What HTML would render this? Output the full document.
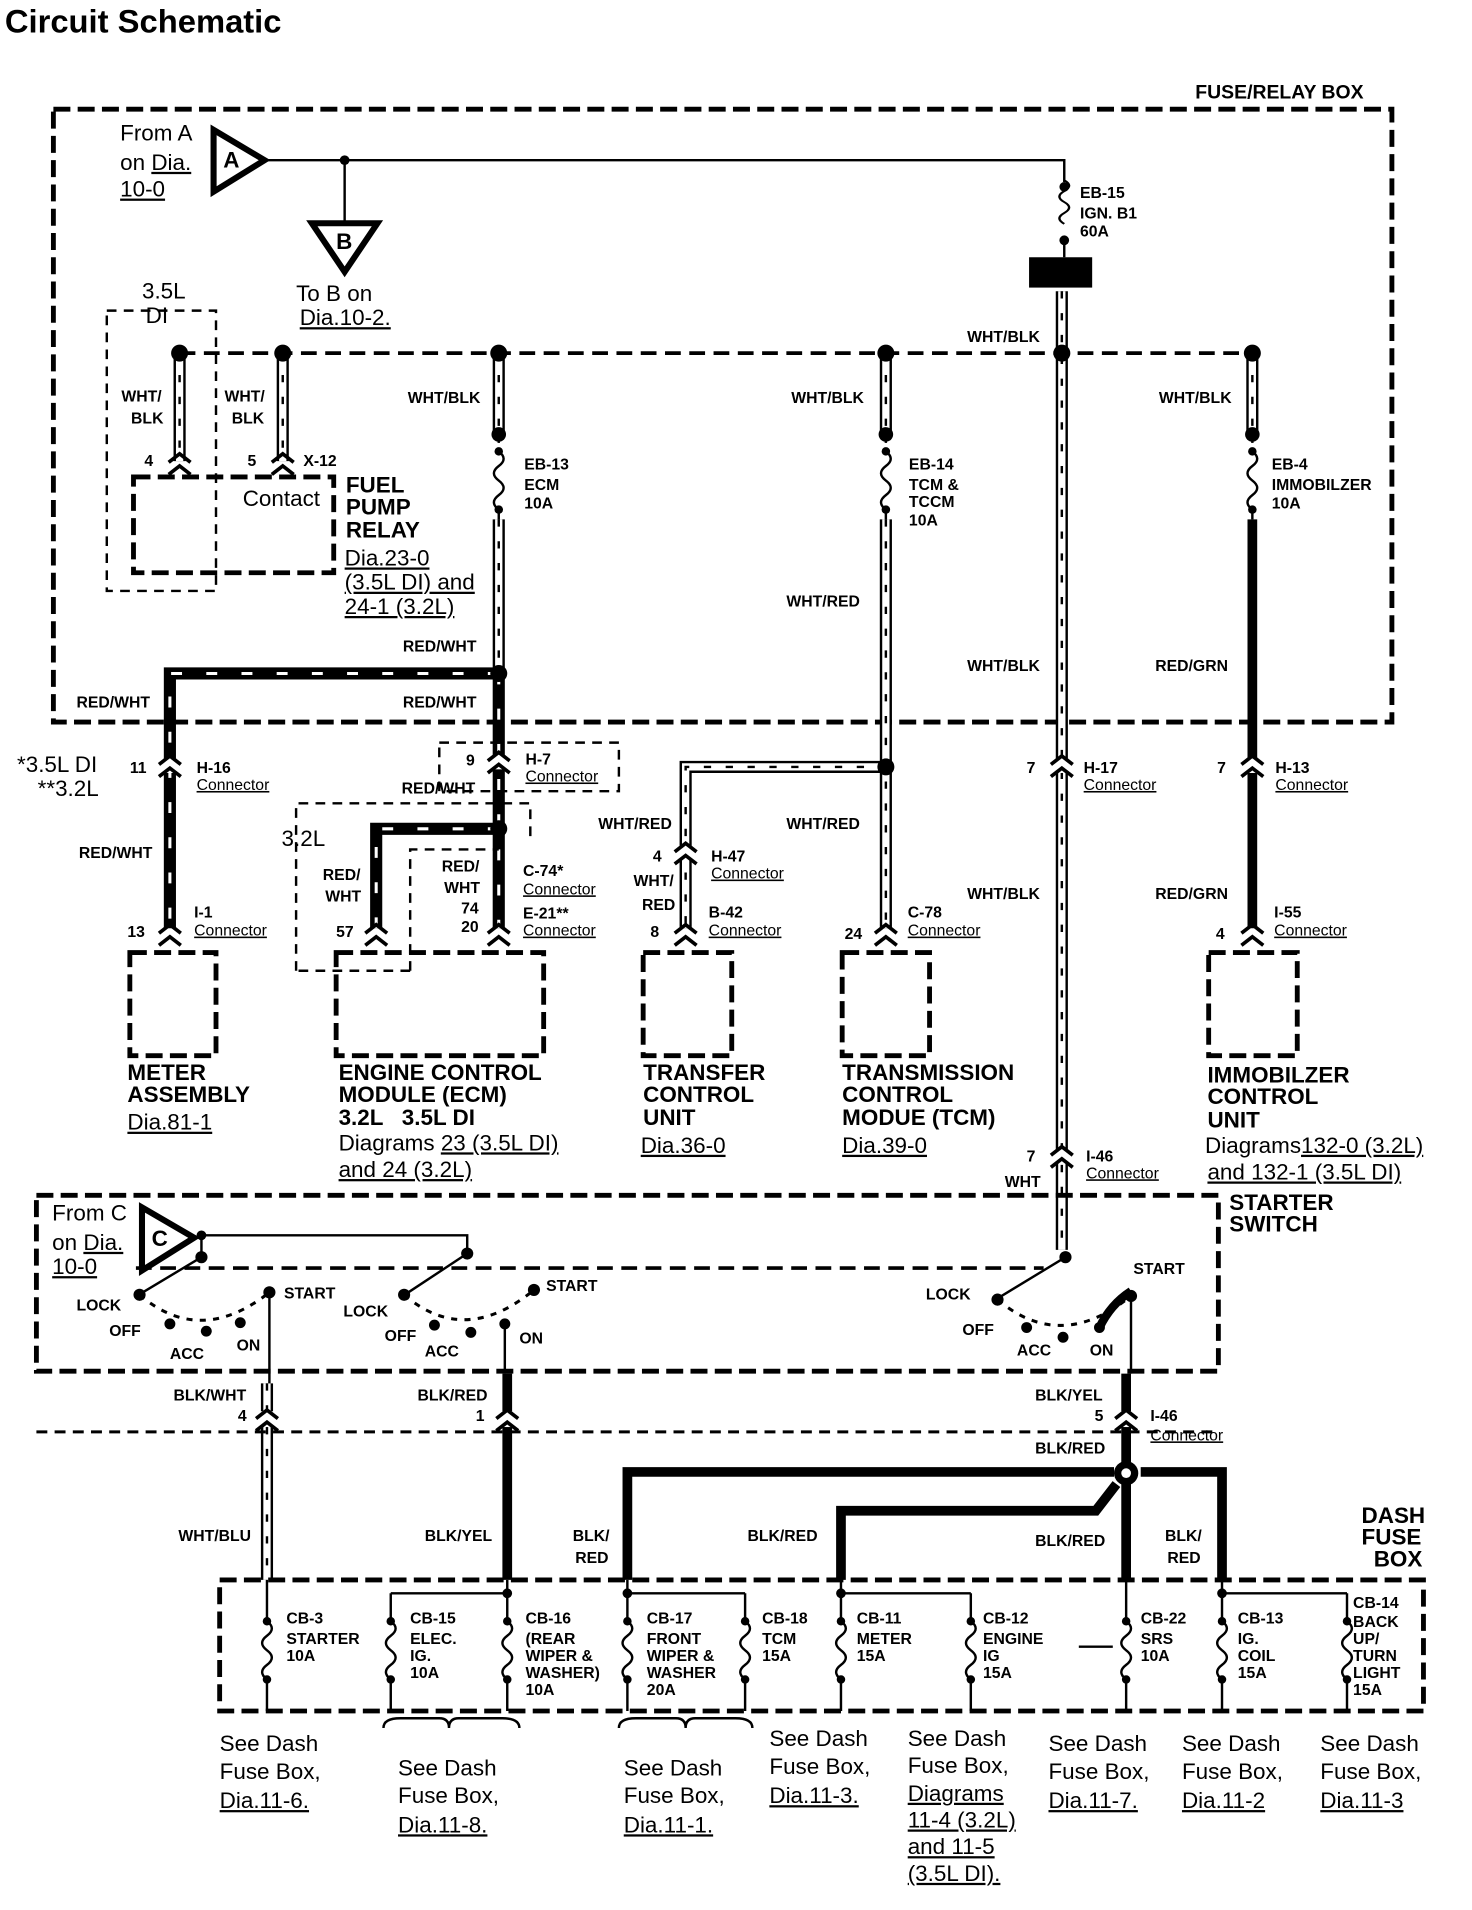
<!DOCTYPE html>
<html><head><meta charset="utf-8"><style>
html,body{margin:0;padding:0;background:#fff;}
svg{display:block}
text{font-family:"Liberation Sans",sans-serif;fill:#000}
.b{font-weight:bold;font-size:13px}
.B{font-weight:bold;font-size:18.5px}
.r{font-size:18.5px}
.u{text-decoration:underline}
.thin{stroke:#000;stroke-width:2;fill:none}
.box{stroke:#000;stroke-width:4;fill:none;stroke-dasharray:14 6}
.tbox{stroke:#000;stroke-width:2;fill:none;stroke-dasharray:8 6}
.sa{stroke:#000;stroke-width:10;fill:none}
.sb{stroke:#fff;stroke-width:6;fill:none}
.sc{stroke:#000;stroke-width:2;fill:none;stroke-dasharray:6 12}
.ra{stroke:#000;stroke-width:10;fill:none}
.rb{stroke:#fff;stroke-width:2.5;fill:none;stroke-dasharray:9 20}
.k{stroke:#000;stroke-width:8;fill:none}
.sw{stroke:#000;stroke-width:2.5;fill:none;stroke-dasharray:5 6}
</style></head><body>
<svg width="1472" height="1910" viewBox="0 0 1213 1574" preserveAspectRatio="none" xmlns="http://www.w3.org/2000/svg">
<defs>
<path id="fz" d="M0,0 q8,6 0,12 q-8,6 0,12 q8,6 0,12 q-8,6 0,12" fill="none" stroke="#000" stroke-width="2"/>
<path id="cn" d="M-9,-3 L0,-10 L9,-3 M-9,7 L0,0 L9,7" fill="none" stroke="#000" stroke-width="3"/>
<path id="w1" d="M148 291 V380"/><path id="w2" d="M233 291 V380"/>
<path id="w3" d="M411 291 V358 M411 428 V552"/>
<path id="w4" d="M730 291 V358 M730 428 V765"/>
<path id="w5" d="M730 632 H565 V765"/>
<path id="w6" d="M875 240 V1030"/>
<path id="w7" d="M1032 291 V358"/>
<path id="w8" d="M220 1140 V1302"/>
<path id="r1" d="M411 555 H140 V765"/><path id="r2" d="M411 555 V765"/><path id="r3" d="M411 683 H310 V765"/>
</defs>
<text x="4" y="27" style="font-weight:bold;font-size:27px">Circuit Schematic</text>
<rect class="box" x="44" y="90" width="1103" height="505"/>
<text class="b" x="985" y="81" style="font-size:16px">FUSE/RELAY BOX</text>
<path d="M176,107 L176,158 L218,132 Z" fill="none" stroke="#000" stroke-width="5"/>
<text class="B" x="184" y="138">A</text>
<path class="thin" d="M220 132 H877 V150"/>
<circle cx="284" cy="132" r="4"/>
<path class="thin" d="M284 132 V183"/>
<path d="M257,184 L311,184 L284,224 Z" fill="none" stroke="#000" stroke-width="5"/>
<text class="B" x="277" y="205">B</text>
<text class="r" x="99" y="116">From A</text>
<text class="r" x="99" y="140">on <tspan class="u">Dia.</tspan></text>
<text class="r u" x="99" y="162">10-0</text>
<text class="r" x="244" y="248">To B on</text>
<text class="r u" x="247" y="268">Dia.10-2.</text>
<circle cx="877" cy="154" r="4"/><use href="#fz" x="877" y="158" transform="scale(1,0.75) translate(0,40)"/>
<circle cx="877" cy="198" r="4"/>
<path class="thin" d="M877 198 V212"/>
<rect x="848" y="212" width="52" height="25"/>
<text class="b" x="890" y="163">EB-15</text><text class="b" x="890" y="180">IGN. B1</text><text class="b" x="890" y="195">60A</text>
<text class="b" x="797" y="282">WHT/BLK</text>
<path stroke="#000" stroke-width="3" stroke-dasharray="13 7" d="M148 291 H1032"/>
<rect class="tbox" x="88" y="256" width="90" height="231"/>
<text class="r" x="117" y="246">3.5L</text><text class="r" x="120" y="266">DI</text>
<g class="sa"><use href="#w1"/><use href="#w2"/><use href="#w3"/><use href="#w4"/><use href="#w5"/><use href="#w6"/><use href="#w7"/><use href="#w8"/></g>
<g class="sb"><use href="#w1"/><use href="#w2"/><use href="#w3"/><use href="#w4"/><use href="#w5"/><use href="#w6"/><use href="#w7"/><use href="#w8"/></g>
<g class="sc"><use href="#w1"/><use href="#w2"/><use href="#w3"/><use href="#w4"/><use href="#w5"/><use href="#w6"/><use href="#w7"/><use href="#w8"/></g>
<g class="ra"><use href="#r1"/><use href="#r2"/><use href="#r3"/></g>
<g class="rb"><use href="#r1"/><use href="#r2"/><use href="#r3"/></g>
<path class="k" d="M1032 428 V765"/>
<g>
<circle cx="411" cy="358" r="6"/><circle cx="730" cy="358" r="6"/><circle cx="1032" cy="358" r="6"/>
<path class="thin" d="M411 358 V428 M730 358 V428 M1032 358 V428"/>
<rect x="400" y="365" width="22" height="58" fill="#fff"/><rect x="719" y="365" width="22" height="58" fill="#fff"/><rect x="1021" y="365" width="22" height="58" fill="#fff"/>
<circle cx="411" cy="372" r="3.5"/><circle cx="411" cy="420" r="3.5"/><use href="#fz" x="411" y="372"/>
<circle cx="730" cy="372" r="3.5"/><circle cx="730" cy="420" r="3.5"/><use href="#fz" x="730" y="372"/>
<circle cx="1032" cy="372" r="3.5"/><circle cx="1032" cy="420" r="3.5"/><use href="#fz" x="1032" y="372"/>
</g>
<g><circle cx="148" cy="291" r="7"/><circle cx="233" cy="291" r="7"/><circle cx="411" cy="291" r="7"/><circle cx="730" cy="291" r="7"/><circle cx="875" cy="291" r="7"/><circle cx="1032" cy="291" r="7"/>
<circle cx="411" cy="555" r="7"/><circle cx="411" cy="683" r="7"/><circle cx="730" cy="632" r="7"/></g>
<text class="b" x="100" y="331">WHT/</text><text class="b" x="108" y="349">BLK</text>
<text class="b" x="185" y="331">WHT/</text><text class="b" x="191" y="349">BLK</text>
<text class="b" x="336" y="332">WHT/BLK</text><text class="b" x="652" y="332">WHT/BLK</text><text class="b" x="955" y="332">WHT/BLK</text>
<use href="#cn" x="148" y="384"/><use href="#cn" x="233" y="384"/>
<text class="b" x="119" y="384">4</text><text class="b" x="204" y="384">5</text><text class="b" x="250" y="384">X-12</text>
<rect class="box" x="110" y="393" width="165" height="79"/>
<text class="r" x="200" y="417">Contact</text>
<text class="B" x="285" y="406">FUEL</text><text class="B" x="285" y="424">PUMP</text><text class="B" x="285" y="443">RELAY</text>
<text class="r u" x="284" y="466">Dia.23-0</text><text class="r u" x="284" y="486">(3.5L DI) and</text><text class="r u" x="284" y="506">24-1 (3.2L)</text>
<text class="b" x="432" y="387">EB-13</text><text class="b" x="432" y="404">ECM</text><text class="b" x="432" y="419">10A</text>
<text class="b" x="749" y="387">EB-14</text><text class="b" x="749" y="404">TCM &amp;</text><text class="b" x="749" y="418">TCCM</text><text class="b" x="749" y="433">10A</text>
<text class="b" x="1048" y="387">EB-4</text><text class="b" x="1048" y="404">IMMOBILZER</text><text class="b" x="1048" y="419">10A</text>
<text class="b" x="648" y="500">WHT/RED</text>
<text class="b" x="332" y="537">RED/WHT</text><text class="b" x="63" y="583">RED/WHT</text><text class="b" x="332" y="583">RED/WHT</text>
<text class="b" x="797" y="553">WHT/BLK</text><text class="b" x="952" y="553">RED/GRN</text>
<g fill="#fff"><rect x="128" y="625" width="24" height="12"/><rect x="399" y="622" width="24" height="12"/><rect x="863" y="625" width="24" height="12"/><rect x="1020" y="625" width="24" height="12"/><rect x="553" y="697" width="24" height="12"/><rect x="863" y="947" width="24" height="12"/></g>
<use href="#cn" x="140" y="633"/><use href="#cn" x="411" y="630"/><use href="#cn" x="875" y="633"/><use href="#cn" x="1032" y="633"/><use href="#cn" x="565" y="705"/><use href="#cn" x="875" y="955"/>
<use href="#cn" x="140" y="772"/><use href="#cn" x="310" y="772"/><use href="#cn" x="411" y="772"/><use href="#cn" x="565" y="772"/><use href="#cn" x="730" y="772"/><use href="#cn" x="1032" y="772"/>
<text class="r" x="14" y="636">*3.5L DI</text><text class="r" x="31" y="656">**3.2L</text>
<text class="b" x="107" y="637">11</text><text class="b" x="162" y="637">H-16</text><text class="b u" x="162" y="651" style="font-weight:normal">Connector</text>
<rect class="tbox" x="362" y="612" width="148" height="40"/>
<text class="b" x="384" y="631">9</text><text class="b" x="433" y="630">H-7</text><text class="b u" x="433" y="644" style="font-weight:normal">Connector</text>
<text class="b" x="331" y="654">RED/WHT</text>
<text class="b" x="846" y="637">7</text><text class="b" x="893" y="637">H-17</text><text class="b u" x="893" y="651" style="font-weight:normal">Connector</text>
<text class="b" x="1003" y="637">7</text><text class="b" x="1051" y="637">H-13</text><text class="b u" x="1051" y="651" style="font-weight:normal">Connector</text>
<path class="tbox" d="M244 800 V662 H437 V695 M338 800 H244 M338 800 V700 H411"/>
<text class="r" x="232" y="697">3.2L</text>
<text class="b" x="493" y="683">WHT/RED</text><text class="b" x="648" y="683">WHT/RED</text>
<text class="b" x="538" y="710">4</text><text class="b" x="586" y="710">H-47</text><text class="b u" x="586" y="724" style="font-weight:normal">Connector</text>
<text class="b" x="65" y="707">RED/WHT</text>
<text class="b" x="266" y="725">RED/</text><text class="b" x="268" y="743">WHT</text>
<text class="b" x="364" y="718">RED/</text><text class="b" x="366" y="736">WHT</text>
<text class="b" x="380" y="753">74</text><text class="b" x="380" y="768">20</text><text class="b" x="277" y="772">57</text>
<text class="b" x="431" y="722">C-74*</text><text class="b u" x="431" y="737" style="font-weight:normal">Connector</text>
<text class="b" x="431" y="757">E-21**</text><text class="b u" x="431" y="771" style="font-weight:normal">Connector</text>
<text class="b" x="522" y="730">WHT/</text><text class="b" x="529" y="750">RED</text>
<text class="b" x="536" y="772">8</text><text class="b" x="584" y="756">B-42</text><text class="b u" x="584" y="771" style="font-weight:normal">Connector</text>
<text class="b" x="696" y="774">24</text><text class="b" x="748" y="756">C-78</text><text class="b u" x="748" y="771" style="font-weight:normal">Connector</text>
<text class="b" x="797" y="741">WHT/BLK</text><text class="b" x="952" y="741">RED/GRN</text>
<text class="b" x="105" y="772">13</text><text class="b" x="160" y="756">I-1</text><text class="b u" x="160" y="771" style="font-weight:normal">Connector</text>
<text class="b" x="1002" y="774">4</text><text class="b" x="1050" y="756">I-55</text><text class="b u" x="1050" y="771" style="font-weight:normal">Connector</text>
<rect class="box" x="107" y="785" width="71" height="85"/>
<rect class="box" x="277" y="785" width="171" height="85"/>
<rect class="box" x="530" y="785" width="73" height="85"/>
<rect class="box" x="694" y="785" width="72" height="85"/>
<rect class="box" x="996" y="785" width="73" height="85"/>
<text class="B" x="105" y="890">METER</text><text class="B" x="105" y="908">ASSEMBLY</text><text class="r u" x="105" y="931">Dia.81-1</text>
<text class="B" x="279" y="890">ENGINE CONTROL</text><text class="B" x="279" y="908">MODULE (ECM)</text><text class="B" x="279" y="927">3.2L &#160;&#160;3.5L DI</text>
<text class="r" x="279" y="948">Diagrams <tspan class="u">23 (3.5L DI)</tspan></text><text class="r u" x="279" y="970">and 24 (3.2L)</text>
<text class="B" x="530" y="890">TRANSFER</text><text class="B" x="530" y="908">CONTROL</text><text class="B" x="530" y="927">UNIT</text><text class="r u" x="528" y="950">Dia.36-0</text>
<text class="B" x="694" y="890">TRANSMISSION</text><text class="B" x="694" y="908">CONTROL</text><text class="B" x="694" y="927">MODUE (TCM)</text><text class="r u" x="694" y="950">Dia.39-0</text>
<text class="B" x="995" y="892">IMMOBILZER</text><text class="B" x="995" y="910">CONTROL</text><text class="B" x="995" y="929">UNIT</text>
<text class="r" x="993" y="950">Diagrams<tspan class="u">132-0 (3.2L)</tspan></text><text class="r u" x="995" y="972">and 132-1 (3.5L DI)</text>
<text class="b" x="846" y="957">7</text><text class="b" x="895" y="957">I-46</text><text class="b u" x="895" y="971" style="font-weight:normal">Connector</text>
<text class="b" x="828" y="978">WHT</text>
<rect class="box" x="30" y="985" width="974" height="145"/>
<path stroke="#000" stroke-width="3" stroke-dasharray="13 7" d="M112 1045 H860"/>
<text class="B" x="1013" y="997">STARTER</text><text class="B" x="1013" y="1015">SWITCH</text>
<path d="M117,995 L117,1047 L160,1020 Z" fill="#fff" stroke="#000" stroke-width="5"/>
<text class="B" x="125" y="1027">C</text>
<text class="r" x="43" y="1006">From C</text><text class="r" x="43" y="1030">on <tspan class="u">Dia.</tspan></text><text class="r u" x="43" y="1050">10-0</text>
<path class="thin" d="M166 1018 H385 V1033 M166 1018 V1036"/>
<circle cx="166" cy="1018" r="4"/><circle cx="166" cy="1036" r="5"/><circle cx="385" cy="1033" r="5"/><circle cx="878" cy="1036" r="5"/>
<path class="thin" stroke-width="2.5" d="M166 1036 L116 1066 M385 1033 L335 1066 M878 1036 L822 1070"/>
<g><circle cx="115" cy="1067" r="5"/><circle cx="140" cy="1091" r="4.5"/><circle cx="170" cy="1097" r="4.5"/><circle cx="198" cy="1090" r="4.5"/><circle cx="222" cy="1065" r="5"/>
<circle cx="333" cy="1067" r="5"/><circle cx="358" cy="1092" r="4.5"/><circle cx="388" cy="1098" r="4.5"/><circle cx="416" cy="1091" r="4.5"/><circle cx="440" cy="1063" r="5"/>
<circle cx="822" cy="1071" r="5"/><circle cx="846" cy="1094" r="4.5"/><circle cx="876" cy="1102" r="4.5"/><circle cx="906" cy="1094" r="4.5"/><circle cx="932" cy="1068" r="5"/></g>
<path class="sw" d="M115 1067 Q165 1110 222 1065 M333 1067 Q383 1110 440 1063 M822 1071 Q874 1115 932 1068"/>
<path d="M906 1094 Q915 1075 932 1064" stroke="#000" stroke-width="7" fill="none"/>
<path class="thin" d="M222 1065 V1140 M416 1091 V1132 M932 1068 V1132"/>
<text class="b" x="63" y="1080">LOCK</text><text class="b" x="90" y="1101">OFF</text><text class="b" x="140" y="1120">ACC</text><text class="b" x="195" y="1113">ON</text><text class="b" x="234" y="1070">START</text>
<text class="b" x="283" y="1085">LOCK</text><text class="b" x="317" y="1105">OFF</text><text class="b" x="350" y="1118">ACC</text><text class="b" x="428" y="1107">ON</text><text class="b" x="450" y="1064">START</text>
<text class="b" x="763" y="1071">LOCK</text><text class="b" x="793" y="1100">OFF</text><text class="b" x="838" y="1117">ACC</text><text class="b" x="898" y="1117">ON</text><text class="b" x="934" y="1050">START</text>
<path stroke="#000" stroke-width="2.5" stroke-dasharray="9 6" d="M30 1180 H1004"/>
<path class="k" d="M418 1132 V1302 M928 1132 V1302"/>
<path class="k" stroke-width="12" d="M517 1302 V1213 H918 M940 1213 H1007 V1302"/>
<path class="k" stroke-width="10" d="M693 1302 V1245 H903 L920 1223"/>
<circle cx="928" cy="1214" r="10" fill="#000"/><circle cx="928" cy="1214" r="4" fill="#fff"/>
<g fill="#fff"><rect x="208" y="1163" width="24" height="13"/><rect x="406" y="1163" width="24" height="13"/><rect x="916" y="1163" width="24" height="13"/></g>
<use href="#cn" x="220" y="1172"/><use href="#cn" x="418" y="1172"/><use href="#cn" x="928" y="1172"/>
<text class="b" x="143" y="1154">BLK/WHT</text><text class="b" x="196" y="1171">4</text>
<text class="b" x="344" y="1154">BLK/RED</text><text class="b" x="392" y="1171">1</text>
<text class="b" x="853" y="1154">BLK/YEL</text><text class="b" x="902" y="1171">5</text>
<text class="b" x="948" y="1171">I-46</text><text class="b u" x="948" y="1187" style="font-weight:normal">Connector</text>
<text class="b" x="853" y="1198">BLK/RED</text>
<text class="b" x="147" y="1270">WHT/BLU</text><text class="b" x="350" y="1270">BLK/YEL</text>
<text class="b" x="472" y="1270">BLK/</text><text class="b" x="474" y="1288">RED</text>
<text class="b" x="616" y="1270">BLK/RED</text><text class="b" x="853" y="1274">BLK/RED</text>
<text class="b" x="960" y="1270">BLK/</text><text class="b" x="962" y="1288">RED</text>
<text class="B" x="1122" y="1255">DASH</text><text class="B" x="1122" y="1273">FUSE</text><text class="B" x="1132" y="1291">BOX</text>
<rect class="box" x="181" y="1302" width="992" height="108"/>
<path class="thin" stroke-width="3" d="M322 1313 H418 M517 1313 H614 M693 1313 H800 M1007 1313 H1110 M889 1357 H917"/>
<path class="thin" d="M220 1302 V1410 M322 1313 V1410 M418 1302 V1410 M517 1302 V1410 M614 1313 V1410 M693 1302 V1410 M800 1313 V1410 M928 1302 V1410 M1007 1302 V1410 M1110 1313 V1410"/>
<g fill="#fff"><rect x="210" y="1336" width="20" height="50"/><rect x="312" y="1336" width="20" height="50"/><rect x="408" y="1336" width="20" height="50"/><rect x="507" y="1336" width="20" height="50"/><rect x="604" y="1336" width="20" height="50"/><rect x="683" y="1336" width="20" height="50"/><rect x="790" y="1336" width="20" height="50"/><rect x="918" y="1336" width="20" height="50"/><rect x="997" y="1336" width="20" height="50"/><rect x="1100" y="1336" width="20" height="50"/></g>
<g>
<circle cx="418" cy="1313" r="4"/><circle cx="517" cy="1313" r="4"/><circle cx="693" cy="1313" r="4"/><circle cx="1007" cy="1313" r="4"/>
<circle cx="220" cy="1336" r="3.5"/><circle cx="220" cy="1384" r="3.5"/><use href="#fz" x="220" y="1336"/>
<circle cx="322" cy="1336" r="3.5"/><circle cx="322" cy="1384" r="3.5"/><use href="#fz" x="322" y="1336"/>
<circle cx="418" cy="1336" r="3.5"/><circle cx="418" cy="1384" r="3.5"/><use href="#fz" x="418" y="1336"/>
<circle cx="517" cy="1336" r="3.5"/><circle cx="517" cy="1384" r="3.5"/><use href="#fz" x="517" y="1336"/>
<circle cx="614" cy="1336" r="3.5"/><circle cx="614" cy="1384" r="3.5"/><use href="#fz" x="614" y="1336"/>
<circle cx="693" cy="1336" r="3.5"/><circle cx="693" cy="1384" r="3.5"/><use href="#fz" x="693" y="1336"/>
<circle cx="800" cy="1336" r="3.5"/><circle cx="800" cy="1384" r="3.5"/><use href="#fz" x="800" y="1336"/>
<circle cx="928" cy="1336" r="3.5"/><circle cx="928" cy="1384" r="3.5"/><use href="#fz" x="928" y="1336"/>
<circle cx="1007" cy="1336" r="3.5"/><circle cx="1007" cy="1384" r="3.5"/><use href="#fz" x="1007" y="1336"/>
<circle cx="1110" cy="1336" r="3.5"/><circle cx="1110" cy="1384" r="3.5"/><use href="#fz" x="1110" y="1336"/>
</g>
<g class="b">
<text x="236" y="1338">CB-3</text><text x="236" y="1355">STARTER</text><text x="236" y="1369">10A</text>
<text x="338" y="1338">CB-15</text><text x="338" y="1355">ELEC.</text><text x="338" y="1369">IG.</text><text x="338" y="1383">10A</text>
<text x="433" y="1338">CB-16</text><text x="433" y="1355">(REAR</text><text x="433" y="1369">WIPER &amp;</text><text x="433" y="1383">WASHER)</text><text x="433" y="1397">10A</text>
<text x="533" y="1338">CB-17</text><text x="533" y="1355">FRONT</text><text x="533" y="1369">WIPER &amp;</text><text x="533" y="1383">WASHER</text><text x="533" y="1397">20A</text>
<text x="628" y="1338">CB-18</text><text x="628" y="1355">TCM</text><text x="628" y="1369">15A</text>
<text x="706" y="1338">CB-11</text><text x="706" y="1355">METER</text><text x="706" y="1369">15A</text>
<text x="810" y="1338">CB-12</text><text x="810" y="1355">ENGINE</text><text x="810" y="1369">IG</text><text x="810" y="1383">15A</text>
<text x="940" y="1338">CB-22</text><text x="940" y="1355">SRS</text><text x="940" y="1369">10A</text>
<text x="1020" y="1338">CB-13</text><text x="1020" y="1355">IG.</text><text x="1020" y="1369">COIL</text><text x="1020" y="1383">15A</text>
<text x="1115" y="1325">CB-14</text><text x="1115" y="1341">BACK</text><text x="1115" y="1355">UP/</text><text x="1115" y="1369">TURN</text><text x="1115" y="1383">LIGHT</text><text x="1115" y="1397">15A</text>
</g>
<path class="thin" stroke-width="3" d="M316 1424 Q316 1416 330 1416 H362 Q370 1416 370 1424 Q370 1416 378 1416 H414 Q428 1416 428 1424 M510 1424 Q510 1416 524 1416 H557 Q565 1416 565 1424 Q565 1416 573 1416 H606 Q620 1416 620 1424"/>
<g class="r">
<text x="181" y="1443">See Dash</text><text x="181" y="1466">Fuse Box,</text><text x="181" y="1490" class="u">Dia.11-6.</text>
<text x="328" y="1463">See Dash</text><text x="328" y="1486">Fuse Box,</text><text x="328" y="1510" class="u">Dia.11-8.</text>
<text x="514" y="1463">See Dash</text><text x="514" y="1486">Fuse Box,</text><text x="514" y="1510" class="u">Dia.11-1.</text>
<text x="634" y="1439">See Dash</text><text x="634" y="1462">Fuse Box,</text><text x="634" y="1486" class="u">Dia.11-3.</text>
<text x="748" y="1439">See Dash</text><text x="748" y="1461">Fuse Box,</text><text x="748" y="1484" class="u">Diagrams</text><text x="748" y="1506" class="u">11-4 (3.2L)</text><text x="748" y="1528" class="u">and 11-5</text><text x="748" y="1550" class="u">(3.5L DI).</text>
<text x="864" y="1443">See Dash</text><text x="864" y="1466">Fuse Box,</text><text x="864" y="1490" class="u">Dia.11-7.</text>
<text x="974" y="1443">See Dash</text><text x="974" y="1466">Fuse Box,</text><text x="974" y="1490" class="u">Dia.11-2</text>
<text x="1088" y="1443">See Dash</text><text x="1088" y="1466">Fuse Box,</text><text x="1088" y="1490" class="u">Dia.11-3</text>
</g>
</svg>
</body></html>
